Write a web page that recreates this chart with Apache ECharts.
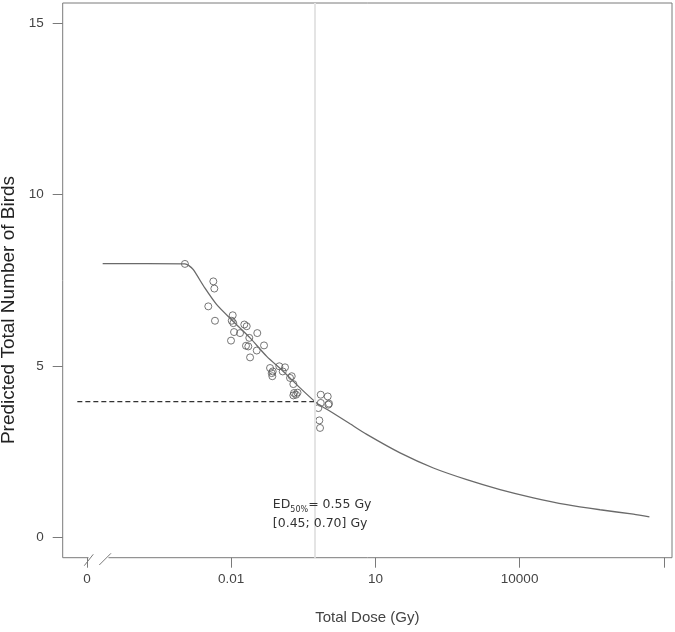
<!DOCTYPE html>
<html><head><meta charset="utf-8">
<script src="https://cdn.jsdelivr.net/npm/echarts@6/dist/echarts.min.js"></script>
<style>html,body{margin:0;padding:0;background:#fff}#c{width:675px;height:632px}</style>
</head><body><div id="c"></div>
<script>
// ---- data ----
const obsDoseGy = [0.00109,0.00425,0.00446,0.00334,0.00460,0.01076,0.01026,0.01107,0.01875,0.02104,
  0.01146,0.01528,0.00991,0.0349,0.0238,0.0203,0.0227,0.0482,0.0340,0.0247,
  0.0643,0.0731,0.0697,0.0718,0.1002,0.1318,0.1180,0.1675,0.1816,0.1963,
  0.2028,0.2234,0.2399,0.1963,0.7295,1.019,0.7295,1.050,1.084,0.650,0.682,0.705];
const obsBirds = [7.98,7.47,7.26,6.74,6.32,6.48,6.32,6.25,6.21,6.16,
  5.99,5.96,5.74,5.96,5.82,5.59,5.57,5.60,5.45,5.25,
  4.94,4.84,4.79,4.70,4.99,4.96,4.84,4.65,4.70,4.47,
  4.21,4.16,4.22,4.14,4.16,4.11,3.92,3.87,3.90,3.77,3.41,3.19];
const curveDoseGy = [2.12e-5,0.00109,0.00132,0.00163,0.00285,0.00500,0.01107,0.0247,0.0548,0.1216,0.2704,0.601,
  1.334,2.965,6.61,32.6,160.7,796,3917,19320,95720,472100,2328000,5012000];
const curveBirds = [7.99,7.98,7.93,7.81,7.27,6.79,6.30,5.82,5.28,4.84,4.36,3.92,
  3.62,3.31,3.00,2.46,2.02,1.68,1.39,1.15,0.95,0.80,0.67,0.59];
const ed50Dose = 0.55;
const ed50Birds = 3.96;
const dashStartDose = 6.3e-6;
const xTickDose = [0, 0.01, 10, 10000, 1e7];
const xTickLabels = ['0', '0.01', '10', '10000', ''];
const yTicks = [0, 5, 10, 15];
const annotationLines = ['ED', '50%', '= 0.55 Gy', '[0.45; 0.70] Gy'];

// dose 0 is drawn at this log10 position on the broken log axis
const ZERO_POS = -5;
const lx = d => d === 0 ? ZERO_POS : Math.log10(d);

const gray = '#7a7a7a';
const chart = echarts.init(document.getElementById('c'), null, {renderer: 'canvas'});
const xTickPos = xTickDose.map(lx);

const option = {
  animation: false,
  backgroundColor: '#fff',
  grid: {left: 62.7, top: 3, right: 3, bottom: 74.3, show: true, borderColor: gray, borderWidth: 1,
         containLabel: false, outerBoundsMode: 'none'},
  xAxis: {
    type: 'value', min: -5.505, max: 7.17,
    axisLine: {show: false, onZero: false},
    splitLine: {show: false},
    axisTick: {show: true, inside: false, length: 10, lineStyle: {color: gray}, customValues: xTickPos},
    axisLabel: {customValues: xTickPos, margin: 15, color: '#444', fontFamily: 'Liberation Sans', fontSize: 13.5,
      formatter: v => { const i = xTickPos.findIndex(p => Math.abs(p - v) < 1e-6); return i >= 0 ? xTickLabels[i] : ''; }},
    name: 'Total Dose (Gy)', nameLocation: 'middle', nameGap: 53,
    nameTextStyle: {color: '#444', fontFamily: 'Liberation Sans', fontSize: 15}
  },
  yAxis: {
    type: 'value', min: -0.6, max: 15.6,
    axisLine: {show: false, onZero: false},
    splitLine: {show: false},
    axisTick: {show: true, inside: false, length: 10, lineStyle: {color: gray}, customValues: yTicks},
    axisLabel: {customValues: yTicks, margin: 19, color: '#444', fontFamily: 'Liberation Sans', fontSize: 13.5}
  },
  series: [
    {
      type: 'line', data: [[lx(ed50Dose), 0], [lx(ed50Dose), 1]], showSymbol: false, silent: true,
      lineStyle: {width: 0, opacity: 0},
      markLine: {silent: true, symbol: ['none', 'none'], label: {show: false},
        lineStyle: {color: '#e4e4e4', width: 2, type: 'solid'},
        data: [{xAxis: lx(ed50Dose)}]}
    },
    {
      type: 'line', data: [[lx(dashStartDose), ed50Birds], [lx(ed50Dose), ed50Birds]],
      showSymbol: false, silent: true,
      lineStyle: {color: '#333', width: 1.2, type: [5, 3]}
    },
    {
      type: 'line', data: curveDoseGy.map((d, i) => [lx(d), curveBirds[i]]),
      showSymbol: false, silent: true, smooth: 0.25,
      lineStyle: {color: '#6a6a6a', width: 1.3}
    },
    {
      type: 'scatter', data: obsDoseGy.map((d, i) => [lx(d), obsBirds[i]]),
      symbol: 'circle', symbolSize: 7,
      itemStyle: {color: 'rgba(0,0,0,0)', borderColor: '#555', borderWidth: 1}
    }
  ]
};
chart.setOption(option);

// axis break marks and annotations, placed through the axis scales
const p0 = chart.convertToPixel({gridIndex: 0}, [lx(0), -0.6]);
const bx = p0[0], by = p0[1];
const pEd = chart.convertToPixel({gridIndex: 0}, [lx(ed50Dose), 1.0]);
chart.setOption({
  graphic: [
    {type: 'rect', z: 100, shape: {x: bx + 1.5, y: by - 2, width: 20, height: 4}, style: {fill: '#fff'}},
    {type: 'line', z: 101, shape: {x1: bx - 2.7, y1: by + 8, x2: bx + 6.3, y2: by - 3.4}, style: {stroke: gray, lineWidth: 1}},
    {type: 'line', z: 101, shape: {x1: bx + 12.3, y1: by + 7.3, x2: bx + 24, y2: by - 4.4}, style: {stroke: gray, lineWidth: 1}},
    {type: 'text', z: 101, x: 9, y: 310, rotation: Math.PI / 2,
      style: {text: 'Predicted Total Number of Birds', fill: '#222', font: '19px "Liberation Sans"', align: 'center', verticalAlign: 'middle'}},
    {type: 'text', z: 101, x: pEd[0] - 42, y: 495,
      style: {
        text: '{a|' + annotationLines[0] + '}{s|' + annotationLines[1] + '}{a|' + annotationLines[2] + '}\n{a|' + annotationLines[3] + '}',
        rich: {
          a: {fontFamily: 'DejaVu Sans', fontSize: 12.5, lineHeight: 19, fill: '#333', color: '#333'},
          s: {fontFamily: 'DejaVu Sans', fontSize: 8, lineHeight: 12, verticalAlign: 'bottom', fill: '#333', color: '#333'}
        }
      }}
  ]
});
</script></body></html>
